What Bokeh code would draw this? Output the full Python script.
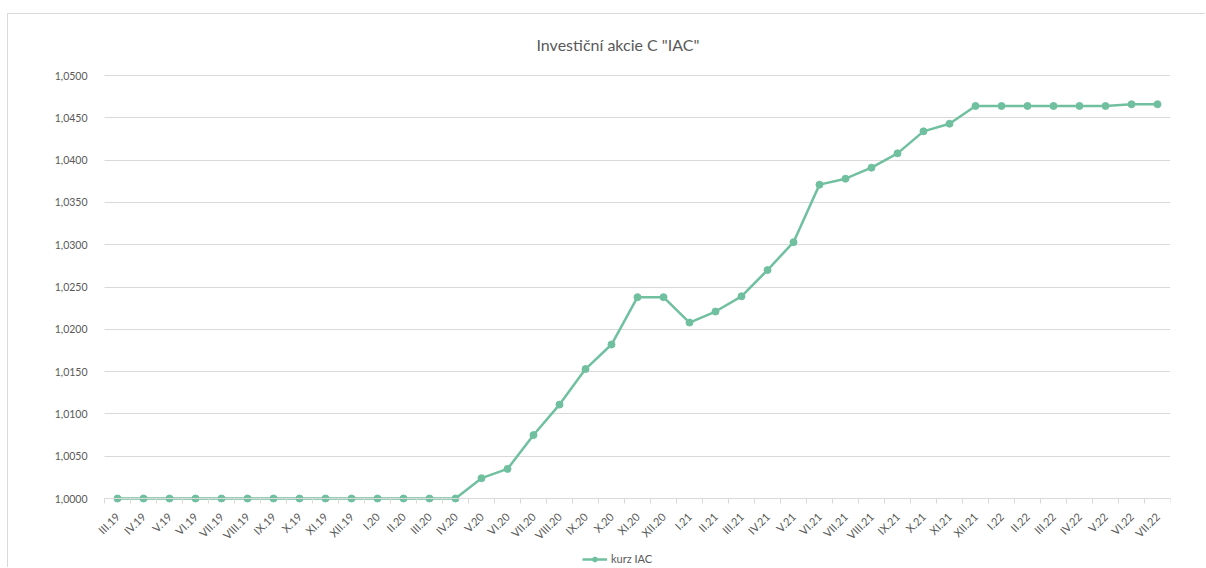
import numpy as np
from bokeh.plotting import figure
from bokeh.models import (Range1d, FixedTicker, CustomJSTickFormatter, Legend, LegendItem)
from bokeh.embed import file_html
from bokeh.resources import INLINE

months = ["III.19", "IV.19", "V.19", "VI.19", "VII.19", "VIII.19", "IX.19", "X.19", "XI.19", "XII.19",
          "I.20", "II.20", "III.20", "IV.20", "V.20", "VI.20", "VII.20", "VIII.20", "IX.20", "X.20",
          "XI.20", "XII.20", "I.21", "II.21", "III.21", "IV.21", "V.21", "VI.21", "VII.21", "VIII.21",
          "IX.21", "X.21", "XI.21", "XII.21", "I.22", "II.22", "III.22", "IV.22", "V.22", "VI.22", "VII.22"]
kurz = [1.0000, 1.0000, 1.0000, 1.0000, 1.0000, 1.0000, 1.0000, 1.0000, 1.0000, 1.0000,
        1.0000, 1.0000, 1.0000, 1.0000, 1.0024, 1.0035, 1.0075, 1.0111, 1.0153, 1.0182,
        1.0238, 1.0238, 1.0208, 1.0221, 1.0239, 1.0270, 1.0303, 1.0371, 1.0378, 1.0391,
        1.0408, 1.0434, 1.0443, 1.0464, 1.0464, 1.0464, 1.0464, 1.0464, 1.0464, 1.0466, 1.0466]
series_name = "kurz IAC"
title_text = 'Investiční akcie C "IAC"'

n = len(months)
xs = [i + 0.5 for i in range(n)]

COLOR = "#70c0a0"
GRAY = "#d9d9d9"
TXT = "#595959"
FONT = "Lato"

# layout (pixels)
W, H = 1198, 554
TOP = 51               # canvas top -> frame top
AXIS_TOP = 61          # canvas top -> y = 1.05
LEFT_PAD = 32          # canvas left -> frame left (frame extends under the y labels)
AXIS_LEFT = 96         # canvas left -> x = 0
RIGHT = 36
AXIS_PX = 423          # pixels between 1.0 and 1.05

Y_MIN, Y_MAX = 1.0, 1.05
per_px = (Y_MAX - Y_MIN) / AXIS_PX
y_end = Y_MAX + per_px * (AXIS_TOP - TOP)
y_start = Y_MIN - per_px * (H - AXIS_TOP - AXIS_PX)
px_per_cat = (W - AXIS_LEFT - RIGHT) / n
x_start = -(AXIS_LEFT - LEFT_PAD) / px_per_cat

p = figure(width=W, height=H, output_backend="svg", toolbar_location=None,
           x_range=Range1d(x_start, n), y_range=Range1d(y_start, y_end),
           min_border_left=LEFT_PAD, min_border_right=RIGHT, min_border_top=TOP, min_border_bottom=0,
           title=title_text)
p.styles = {"margin-left": "7px", "margin-top": "13px",
            "border-top": "1px solid #d9d9d9", "border-left": "1px solid #d9d9d9"}

p.title.align = "left"
p.title.text_font = FONT
p.title.text_font_size = "16px"
p.title.text_font_style = "normal"
p.title.text_color = TXT
p.title.standoff = 23
p.title.offset = 496

p.outline_line_color = None
p.xgrid.grid_line_color = None
p.ygrid.grid_line_color = GRAY
p.ygrid.grid_line_width = 1
p.ygrid.cross_bounds = (0, n)

# y axis (drawn at x = 0)
p.yaxis.fixed_location = 0
p.yaxis.ticker = FixedTicker(ticks=[Y_MIN + 0.005 * i for i in range(11)])
p.yaxis.formatter = CustomJSTickFormatter(code="return tick.toFixed(4).replace('.', ',');")
p.yaxis.axis_line_color = None
p.yaxis.major_tick_line_color = None
p.yaxis.minor_tick_line_color = None
p.yaxis.major_label_text_font = FONT
p.yaxis.major_label_text_font_size = "10.5px"
p.yaxis.major_label_text_color = TXT
p.yaxis.major_label_standoff = 11

# x axis (drawn at y = 1.0)
p.xaxis.fixed_location = Y_MIN
p.xaxis.bounds = (0, n)
p.xaxis.ticker = FixedTicker(ticks=xs, minor_ticks=list(range(n + 1)))
p.xaxis.formatter = CustomJSTickFormatter(args=dict(labels=months),
                                          code="return labels[Math.round(tick - 0.5)];")
p.xaxis.axis_line_color = GRAY
p.xaxis.major_tick_line_color = None
p.xaxis.minor_tick_line_color = GRAY
p.xaxis.minor_tick_in = 0
p.xaxis.minor_tick_out = 5
p.xaxis.major_label_orientation = np.pi / 4
p.xaxis.major_label_text_font = FONT
p.xaxis.major_label_text_font_size = "11px"
p.xaxis.major_label_text_color = TXT
p.xaxis.major_label_standoff = 10

ln = p.line(xs, kurz, line_color=COLOR, line_width=2.5)
cr = p.scatter(xs, kurz, size=7, fill_color=COLOR, line_color=COLOR)

legend = Legend(items=[LegendItem(label=series_name, renderers=[ln, cr])],
                location=(582 - 8 - LEFT_PAD, 3), orientation="horizontal",
                border_line_color=None, background_fill_alpha=0,
                label_text_font=FONT, label_text_font_size="11px", label_text_color=TXT,
                glyph_width=25, glyph_height=12, label_height=12,
                padding=0, margin=0, label_standoff=4, spacing=0)
p.add_layout(legend, "center")

open("out.html", "w").write(file_html(p, INLINE))
